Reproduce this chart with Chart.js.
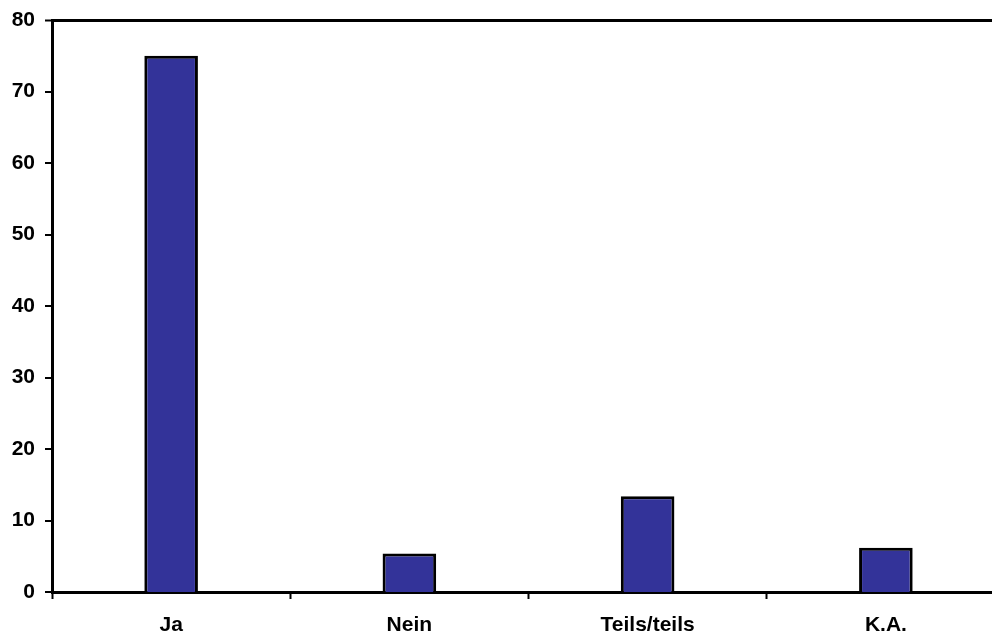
<!DOCTYPE html>
<html>
<head>
<meta charset="utf-8">
<script src="https://cdn.jsdelivr.net/npm/chart.js@4/dist/chart.umd.min.js"></script>
<style>
  html, body { margin: 0; padding: 0; background: #fff; overflow: hidden; }
  #wrap { width: 1005px; height: 634px; }
</style>
</head>
<body>
<div id="wrap"><canvas id="c" width="1005" height="634"></canvas></div>
<script>
// Antworten (Anteil in %)
const categories = ['Ja', 'Nein', 'Teils/teils', 'K.A.'];
const shares = [75.0, 5.4, 13.4, 6.2];
const yTicks = [0, 10, 20, 30, 40, 50, 60, 70, 80];

const FONT = { family: 'Liberation Sans, Arial, sans-serif', size: 21, weight: 'bold' };

new Chart(document.getElementById('c'), {
  type: 'bar',
  data: {
    labels: categories,
    datasets: [{
      data: shares,
      backgroundColor: '#333399',
      borderColor: '#000000',
      borderWidth: 3,
      barPercentage: 0.225,
      categoryPercentage: 1.0
    }]
  },
  options: {
    responsive: false,
    animation: false,
    devicePixelRatio: 1,
    layout: { padding: { top: 20, right: 0, bottom: 0, left: 0 } },
    plugins: { legend: { display: false }, tooltip: { enabled: false } },
    scales: {
      x: {
        grid: {
          offset: true,
          drawOnChartArea: false,
          tickLength: 7,
          tickColor: '#000',
          tickWidth: 2
        },
        border: { color: '#000', width: 3 },
        ticks: { color: '#000', font: FONT, padding: 14, maxRotation: 0 },
        afterFit: (s) => { s.height = 42; s.paddingLeft = 0; s.paddingRight = 0; }
      },
      y: {
        min: 0,
        max: 80,
        afterBuildTicks: (s) => { s.ticks = yTicks.map(v => ({ value: v })); },
        grid: {
          color: (ctx) => (ctx.tick && ctx.tick.value === 80 ? '#000' : 'rgba(0,0,0,0)'),
          lineWidth: (ctx) => (ctx.tick && ctx.tick.value === 80 ? 3 : 0),
          tickLength: 7,
          tickColor: '#000',
          tickWidth: 2
        },
        border: { color: '#000', width: 3 },
        ticks: { color: '#000', font: FONT, padding: 10 },
        afterFit: (s) => { s.width = 52; s.paddingTop = 0; s.paddingBottom = 0; }
      }
    }
  }
});
</script>
</body>
</html>
